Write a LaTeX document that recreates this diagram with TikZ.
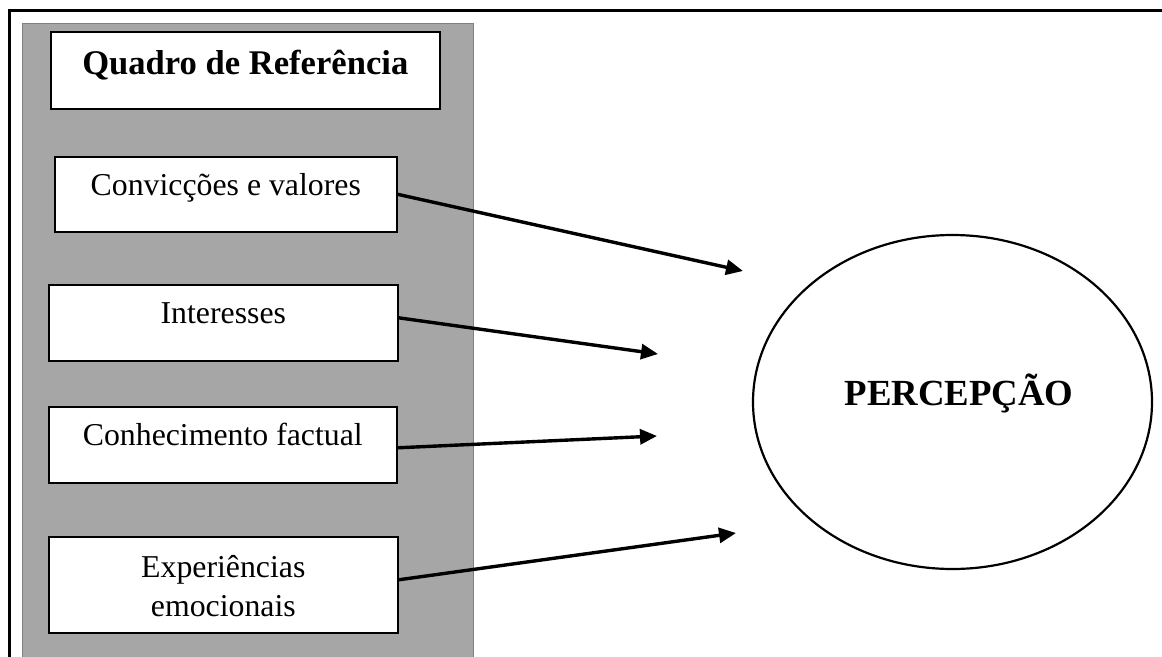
\documentclass[tikz,border=0pt]{standalone}
\usepackage{fontspec}
\setmainfont{Liberation Serif}
\usetikzlibrary{arrows.meta,shapes.geometric}
\definecolor{panelgray}{RGB}{166,166,166}
\definecolor{paneledge}{RGB}{128,128,128}
\begin{document}
\begin{tikzpicture}[x=1pt,y=-1pt,
  box/.style={draw=black, line width=1.6pt, fill=white, inner sep=0pt, anchor=north west,
    font=\fontsize{31.8}{39}\selectfont, align=center},
  arr/.style={line width=3.4pt, -{Triangle[length=17pt,width=15pt]}}]
\useasboundingbox (0,0) rectangle (1162,656);
\clip (0,0) rectangle (1162,656);
\fill[white] (0,0) rectangle (1162,656);
% outer frame
\draw[line width=3pt] (9.5,700) -- (9.5,10.5) -- (1200,10.5);
% grey panel
\draw[fill=panelgray, draw=paneledge, line width=1.5pt] (22.5,23.5) rectangle (473.5,700);
% boxes
\node[box, minimum width=389pt, minimum height=77pt, text height=43pt, text depth=34pt,
  font=\fontsize{34.6}{40}\selectfont\bfseries] (title) at (50,31) {Quadro de Referência};
\node[box, minimum width=342pt, minimum height=75pt, text height=39pt, text depth=36pt] (c1) at (54,156) {Convicções e valores};
\node[box, minimum width=349pt, minimum height=76pt, text height=39pt, text depth=37pt] (c2) at (48,284) {Interesses};
\node[box, minimum width=348pt, minimum height=76pt, text height=39pt, text depth=37pt] (c3) at (48,406) {Conhecimento factual};
\node[box, minimum width=349pt, minimum height=96pt, text height=80pt, text depth=16pt] (c4) at (48,536) {Experiências\\emocionais};
% ellipse
\node[draw, ellipse, line width=2.2pt, inner sep=0pt, minimum width=399pt, minimum height=334pt,
  text height=20pt, text depth=14pt, font=\fontsize{36.8}{44}\selectfont\bfseries] (p) at (952.5,402) {\hspace*{13pt}PERCEPÇÃO};
% arrow tips
\coordinate (t1) at (743,271);
\coordinate (t2) at (658,354);
\coordinate (t3) at (657,436);
\coordinate (t4) at (736,533);
\draw[arr] (c1.east) -- (t1);
\draw[arr] ([yshift=5pt]c2.east) -- (t2);
\draw[arr] ([yshift=-3pt]c3.east) -- (t3);
\draw[arr] ([yshift=5pt]c4.east) -- (t4);
\end{tikzpicture}
\end{document}
